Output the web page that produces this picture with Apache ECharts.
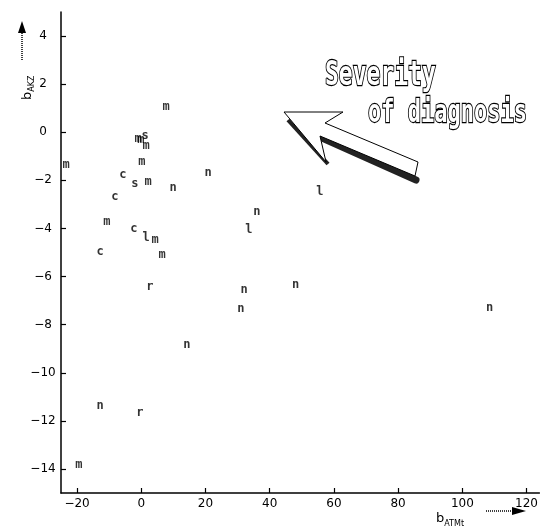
<!DOCTYPE html>
<html>
<head>
<meta charset="utf-8">
<script src="https://cdn.jsdelivr.net/npm/echarts@6/dist/echarts.min.js"></script>
<style>
html,body{margin:0;padding:0;background:#fff;}
#chart{width:541px;height:531px;}
</style>
</head>
<body>
<div id="chart"></div>
<script>
// Point labels (diagnosis letters) and coordinates
const pointLetters = ['m','m','m','m','s','m','m','c','s','m','n','n','c','m','c','l','m','c','m','r','n','l','l','n','n','n','n','n','n','r','m'];
const pointX = [-23.4, 7.7, -1.0, -0.1, 1.2, 1.5, 0.2, -5.7, -2.0, 2.1, 9.9, 20.8, -8.2, -10.7, -2.3, 1.5, 4.3, -12.8, 6.5, 2.7, 36.0, 33.5, 55.6, 32.0, 48.1, 31.0, 108.5, 14.2, -12.8, -0.4, -19.4];
const pointY = [-1.37, 1.04, -0.29, -0.33, -0.17, -0.58, -1.25, -1.79, -2.16, -2.08, -2.33, -1.70, -2.70, -3.74, -4.03, -4.40, -4.49, -4.99, -5.11, -6.44, -3.32, -4.07, -2.49, -6.56, -6.36, -7.35, -7.31, -8.85, -11.38, -11.67, -13.83];
const xTicks = [-20, 0, 20, 40, 60, 80, 100, 120];
const yTicks = [-14, -12, -10, -8, -6, -4, -2, 0, 2, 4];

const data = pointX.map((x, i) => ({ value: [x, pointY[i]], name: pointLetters[i] }));
const fmt = v => String(v).replace('-', '\u2212');

const chart = echarts.init(document.getElementById('chart'), null, { renderer: 'canvas' });
chart.setOption({
  animation: false,
  backgroundColor: '#fff',
  grid: { left: 61, right: 1, top: 12, bottom: 38, containLabel: false },
  xAxis: {
    type: 'value', min: -25, max: 124,
    axisLine: { show: true, onZero: false, lineStyle: { color: '#000', width: 1.5 } },
    axisTick: { show: true, inside: true, length: 5, customValues: xTicks, lineStyle: { color: '#000', width: 1.2 } },
    axisLabel: { customValues: xTicks, formatter: fmt, color: '#000', fontSize: 12, fontFamily: 'DejaVu Sans', margin: 5 },
    splitLine: { show: false }
  },
  yAxis: {
    type: 'value', min: -15, max: 5,
    axisLine: { show: true, onZero: false, lineStyle: { color: '#000', width: 1.5 } },
    axisTick: { show: true, inside: true, length: 5, customValues: yTicks, lineStyle: { color: '#000', width: 1.2 } },
    axisLabel: { customValues: yTicks, formatter: fmt, color: '#000', fontSize: 12, fontFamily: 'DejaVu Sans', margin: 18, align: 'center' },
    splitLine: { show: false }
  },
  series: [{
    type: 'scatter',
    data: data,
    symbolSize: 8,
    itemStyle: { color: 'rgba(0,0,0,0)' },
    label: {
      show: true, position: 'inside', formatter: p => p.name,
      color: '#000', fontSize: 12, fontFamily: 'DejaVu Sans Mono', fontWeight: 'bold'
    }
  }],
  graphic: [
    // Y axis name
    { type: 'text', x: 20, y: 100, rotation: Math.PI / 2,
      style: { text: '{b|b}{s|AKZ}', rich: { b: { fontSize: 13, fontFamily: 'DejaVu Sans', fill: '#000' }, s: { fontSize: 8, fontFamily: 'DejaVu Sans', fill: '#000', padding: [8, 0, 0, 0] } }, fill: '#000' } },
    // Y arrow
    { type: 'line', shape: { x1: 22, y1: 60, x2: 22, y2: 30 }, style: { stroke: '#000', lineWidth: 1.5, lineDash: [1, 1] } },
    { type: 'polygon', shape: { points: [[22, 21], [18, 33], [26, 33]] }, style: { fill: '#000' } },
    // X axis name
    { type: 'text', x: 436, y: 510,
      style: { text: '{b|b}{s|ATMt}', rich: { b: { fontSize: 13, fontFamily: 'DejaVu Sans', fill: '#000' }, s: { fontSize: 8, fontFamily: 'DejaVu Sans', fill: '#000', padding: [10, 0, 0, 0] } }, fill: '#000' } },
    // X arrow
    { type: 'line', shape: { x1: 486, y1: 511, x2: 514, y2: 511 }, style: { stroke: '#000', lineWidth: 1.5, lineDash: [1, 1] } },
    { type: 'polygon', shape: { points: [[526, 511], [512, 507], [512, 515]] }, style: { fill: '#000' } },
    // Arrow shadow
    { type: 'polyline', shape: { points: [[322, 138], [416, 180]] }, style: { stroke: '#222', lineWidth: 7, lineCap: 'round' } },
    { type: 'polyline', shape: { points: [[288, 120], [328, 164]] }, style: { stroke: '#222', lineWidth: 4 } },
    // Big arrow
    { type: 'polygon', shape: { points: [[284, 112], [343, 112], [325, 123], [418, 162], [415, 176], [320, 136], [326, 162]] },
      style: { fill: '#fff', stroke: '#000', lineWidth: 1 } },
    // Severity of diagnosis
    { type: 'text', x: 325, y: 93, scaleY: 1.45,
      style: { text: 'Severity', font: 'bold 23px "DejaVu Sans Mono"', fill: '#fff', stroke: '#000', lineWidth: 1.6, textVerticalAlign: 'bottom' } },
    { type: 'text', x: 368, y: 130, scaleY: 1.45,
      style: { text: 'of diagnosis', font: 'bold 22px "DejaVu Sans Mono"', fill: '#fff', stroke: '#000', lineWidth: 1.6, textVerticalAlign: 'bottom' } }
  ]
});
</script>
</body>
</html>
